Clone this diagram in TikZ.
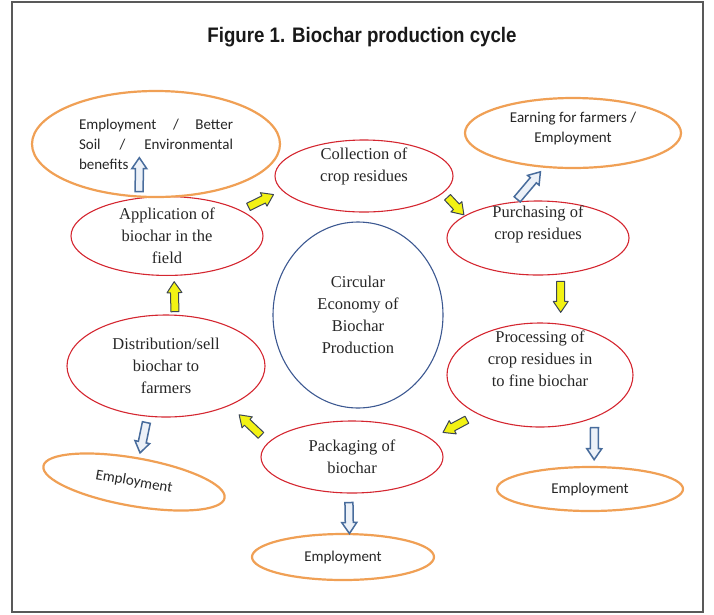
\documentclass[tikz,border=0pt]{standalone}
\usepackage{fontspec}
\setmainfont{Liberation Serif}
\newfontfamily\calibfont{Carlito}
\newfontfamily\headfont{Liberation Sans}
\usetikzlibrary{shapes.geometric,calc}

\definecolor{cycred}{RGB}{212,38,48}
\definecolor{gainorange}{RGB}{240,160,85}
\definecolor{hubblue}{RGB}{60,88,145}
\definecolor{flowyellow}{RGB}{242,242,20}
\definecolor{flowedge}{RGB}{60,70,85}
\definecolor{gainblue}{RGB}{72,108,156}
\definecolor{gainfill}{RGB}{236,241,248}

\tikzset{
  arrowgap/.store in=\blkgap, arrowgap=6pt,
  arrowlen/.store in=\blklen, arrowlen=30pt,
  blk/.style={to path={
    let \p1=(\tikztostart), \p2=(\tikztotarget),
        \n1={atan2(\y2-\y1,\x2-\x1)} in
    ($(\p1)+(\n1:\blkgap)+(\n1+90:4pt)$)
    -- ($(\p1)+(\n1:{\blkgap+\blklen-11pt})+(\n1+90:4pt)$)
    -- ($(\p1)+(\n1:{\blkgap+\blklen-11pt})+(\n1+90:7.5pt)$)
    -- ($(\p1)+(\n1:{\blkgap+\blklen})$)
    -- ($(\p1)+(\n1:{\blkgap+\blklen-11pt})+(\n1-90:7.5pt)$)
    -- ($(\p1)+(\n1:{\blkgap+\blklen-11pt})+(\n1-90:4pt)$)
    -- ($(\p1)+(\n1:\blkgap)+(\n1-90:4pt)$)
    -- cycle}},
  yarr/.style={blk, fill=flowyellow, draw=flowedge, line width=1pt, line join=round},
  barr/.style={blk, fill=gainfill, draw=gainblue, line width=1.5pt, line join=miter},
  stagetext/.style={align=center, text=black!85, font=\fontsize{16.5}{22}\selectfont},
  stage/.style={ellipse, draw=cycred, line width=1.1pt, inner sep=0pt, stagetext},
  gain/.style={ellipse, draw=gainorange, line width=2.2pt, fill=white, inner sep=0pt,
    align=center, text=black!85, font=\calibfont\fontsize{15}{20}\selectfont},
  hub/.style={ellipse, draw=hubblue, line width=1.1pt, inner sep=0pt, stagetext},
}

\begin{document}
\begin{tikzpicture}[x=1pt,y=-1pt]
  \useasboundingbox (0,0) rectangle (714,614);
  %Shape: Frame
  \draw [line width=1.4pt, black!65] (12,2) rectangle (703,612);

  % Title
  \node [font=\headfont\bfseries\fontsize{21}{24}\selectfont, text=black!90] (title) at (362,37)
    {\scalebox{0.89}[1]{Figure 1. Biochar production cycle}};

  %Shape: Ellipse - centre
  \node [hub, minimum width=170pt, minimum height=186pt] (hubcirc) at (358,315)
    {Circular\\Economy of\\Biochar\\Production};

  %Shape: Ellipse - cycle stages
  \node [stage, minimum width=192pt, minimum height=78pt] (app) at (167,236)
    {Application of\\biochar in the\\field};
  \node [stage, minimum width=178pt, minimum height=72pt,
    label={[stagetext, yshift=10pt]center:{Collection of\\crop residues}}] (coll) at (364,176) {};
  \node [stage, minimum width=182pt, minimum height=74pt,
    label={[stagetext, yshift=14pt]center:{Purchasing of\\crop residues}}] (purch) at (538,238) {};
  \node [stage, minimum width=186pt, minimum height=104pt,
    label={[stagetext, yshift=16pt]center:{Processing of\\crop residues in\\to fine biochar}}] (proc) at (540,375) {};
  \node [stage, minimum width=182pt, minimum height=72pt] (pack) at (352,457)
    {Packaging of\\biochar};
  \node [stage, minimum width=198pt, minimum height=102pt] (dist) at (166,366)
    {Distribution/sell\\biochar to\\farmers};

  %Shape: Ellipse - gains
  \node [gain, minimum width=248pt, minimum height=106pt, text width=154pt, align=left] (ben) at (156,144)
    {\makebox[154pt]{Employment\hfill/\hfill Better}\\
     \makebox[154pt]{Soil\hfill/\hfill Environmental}\\
     benefits};
  \node [gain, minimum width=216pt, minimum height=70pt,
    label={[gain, draw=none, fill=none, yshift=5pt]center:{Earning for farmers /\\Employment}}] (earn) at (573,133) {};
  \node [gain, minimum width=186pt, minimum height=44pt] (empR) at (590,489) {Employment};
  \node [gain, minimum width=182pt, minimum height=46pt] (empC) at (343,557) {Employment};
  \node [gain, minimum width=184pt, minimum height=48pt, rotate=-10] (empL) at (134,482) {Employment};

  %Arrows - cycle
  \draw [yarr, arrowgap=8pt, arrowlen=28pt] (app.19) to (coll.190);
  \draw [yarr, arrowgap=6pt, arrowlen=24pt] (coll.-12) to (purch.163);
  \draw [yarr, arrowgap=7pt, arrowlen=31pt] (purch.-58) to (proc.68);
  \draw [yarr, arrowgap=12pt, arrowlen=27pt] (proc.212) to (pack.13);
  \draw [yarr, arrowgap=10pt, arrowlen=30pt] (pack.170) to (dist.-32);
  \draw [yarr, arrowgap=3pt, arrowlen=30pt] (dist.80) to (app.-80);

  %Arrows - gains
  \draw [barr, arrowgap=6pt, arrowlen=34pt] (app.126) to (ben.107);
  \draw [barr, arrowgap=3pt, arrowlen=36pt] (purch.122) to (earn.-130);
  \draw [barr, arrowgap=10pt, arrowlen=32pt] (proc.-38) to (empR.80);
  \draw [barr, arrowgap=9pt, arrowlen=31pt] (pack.-95) to (empC.75);
  \draw [barr, arrowgap=6pt, arrowlen=31pt] (dist.-110) to (empL.center);
\end{tikzpicture}
\end{document}
